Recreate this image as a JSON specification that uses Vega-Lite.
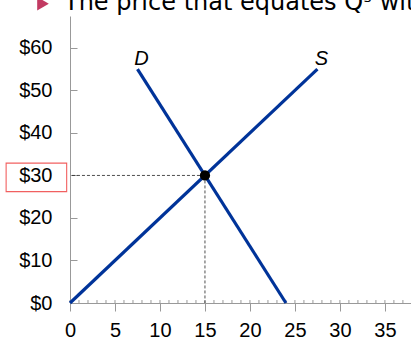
{
  "$schema": "https://vega.github.io/schema/vega-lite/v6.json",
  "width": 341,
  "height": 287,
  "autosize": "none",
  "padding": {"left": 70, "top": 16, "right": 0, "bottom": 38},
  "background": "white",
  "title": {
    "text": "The price that equates Qˢ with",
    "anchor": "start",
    "frame": "group",
    "font": "DejaVu Sans",
    "fontSize": 24,
    "fontWeight": "normal",
    "color": "black",
    "baseline": "alphabetic",
    "offset": 0,
    "dx": -6,
    "dy": 37
  },
  "config": {
    "view": {"stroke": null},
    "axis": {
      "grid": false,
      "domainColor": "#999999",
      "tickColor": "#999999",
      "labelFont": "Liberation Sans",
      "labelFontSize": 20,
      "labelColor": "black",
      "labelFlush": false,
      "labelOverlap": false
    }
  },
  "datasets": {
    "minor": [
      {"q": 0}, {"q": 1}, {"q": 2}, {"q": 3}, {"q": 4}, {"q": 5}, {"q": 6}, {"q": 7},
      {"q": 8}, {"q": 9}, {"q": 10}, {"q": 11}, {"q": 12}, {"q": 13}, {"q": 14}, {"q": 15},
      {"q": 16}, {"q": 17}, {"q": 18}, {"q": 19}, {"q": 20}, {"q": 21}, {"q": 22}, {"q": 23},
      {"q": 24}, {"q": 25}, {"q": 26}, {"q": 27}, {"q": 28}, {"q": 29}, {"q": 30}, {"q": 31},
      {"q": 32}, {"q": 33}, {"q": 34}, {"q": 35}, {"q": 36}, {"q": 37}
    ],
    "curves": [
      {"curve": "D", "q": 7.5, "p": 55},
      {"curve": "D", "q": 24, "p": 0},
      {"curve": "S", "q": 0, "p": 0},
      {"curve": "S", "q": 27.5, "p": 55}
    ],
    "equilibrium": [
      {"q": 15, "p": 30}
    ]
  },
  "layer": [
    {
      "data": {"name": "minor"},
      "mark": {"type": "rule", "color": "#999999", "strokeWidth": 1},
      "encoding": {
        "x": {
          "field": "q",
          "type": "quantitative",
          "scale": {"domain": [0, 37.9], "nice": false, "zero": false},
          "title": null,
          "axis": {
            "values": [0, 5, 10, 15, 20, 25, 30, 35],
            "tickSize": 8,
            "labelPadding": 9
          }
        },
        "y": {
          "datum": 0,
          "type": "quantitative",
          "scale": {"domain": [0, 67.5], "nice": false, "zero": false},
          "title": null,
          "axis": {
            "values": [0, 10, 20, 30, 40, 50, 60],
            "labelExpr": "'$' + datum.value",
            "tickSize": -7,
            "labelPadding": 25
          }
        },
        "y2": {"datum": 0.7}
      }
    },
    {
      "data": {"name": "equilibrium"},
      "mark": {"type": "rule", "color": "#222222", "strokeWidth": 0.8, "strokeDash": [3, 2]},
      "encoding": {
        "x": {"field": "q", "type": "quantitative", "title": null},
        "x2": {"datum": 0},
        "y": {"field": "p", "type": "quantitative", "title": null}
      }
    },
    {
      "data": {"name": "equilibrium"},
      "mark": {"type": "rule", "color": "#222222", "strokeWidth": 0.8, "strokeDash": [3, 2]},
      "encoding": {
        "x": {"field": "q", "type": "quantitative", "title": null},
        "y": {"field": "p", "type": "quantitative", "title": null},
        "y2": {"datum": 0}
      }
    },
    {
      "data": {"name": "curves"},
      "mark": {"type": "line", "color": "#003399", "strokeWidth": 3.2, "strokeCap": "butt"},
      "encoding": {
        "x": {"field": "q", "type": "quantitative", "title": null},
        "y": {"field": "p", "type": "quantitative", "title": null},
        "detail": {"field": "curve"}
      }
    },
    {
      "data": {"name": "curves"},
      "transform": [{"filter": "datum.p > 0"}],
      "mark": {
        "type": "text",
        "font": "Liberation Sans",
        "fontSize": 20,
        "fontStyle": "italic",
        "color": "black",
        "align": "center",
        "baseline": "middle",
        "dx": 4,
        "dy": -10
      },
      "encoding": {
        "x": {"field": "q", "type": "quantitative", "title": null},
        "y": {"field": "p", "type": "quantitative", "title": null},
        "text": {"field": "curve"}
      }
    },
    {
      "data": {"name": "equilibrium"},
      "mark": {"type": "point", "filled": true, "color": "black", "opacity": 1, "size": 105},
      "encoding": {
        "x": {"field": "q", "type": "quantitative", "title": null},
        "y": {"field": "p", "type": "quantitative", "title": null}
      }
    },
    {
      "data": {"name": "equilibrium"},
      "mark": {"type": "rect", "fillOpacity": 0, "stroke": "#ee4444", "strokeWidth": 1.1, "strokeOpacity": 0.85},
      "encoding": {
        "x": {"datum": -7.1, "type": "quantitative", "title": null},
        "x2": {"datum": -0.37},
        "y": {"datum": 26.2, "type": "quantitative", "title": null},
        "y2": {"datum": 32.9}
      }
    },
    {
      "data": {"name": "equilibrium"},
      "mark": {"type": "point", "shape": "triangle-right", "filled": true, "color": "#c23a62", "opacity": 1, "size": 180},
      "encoding": {
        "x": {"datum": -3, "type": "quantitative", "title": null},
        "y": {"datum": 70.4, "type": "quantitative", "title": null}
      }
    }
  ]
}
